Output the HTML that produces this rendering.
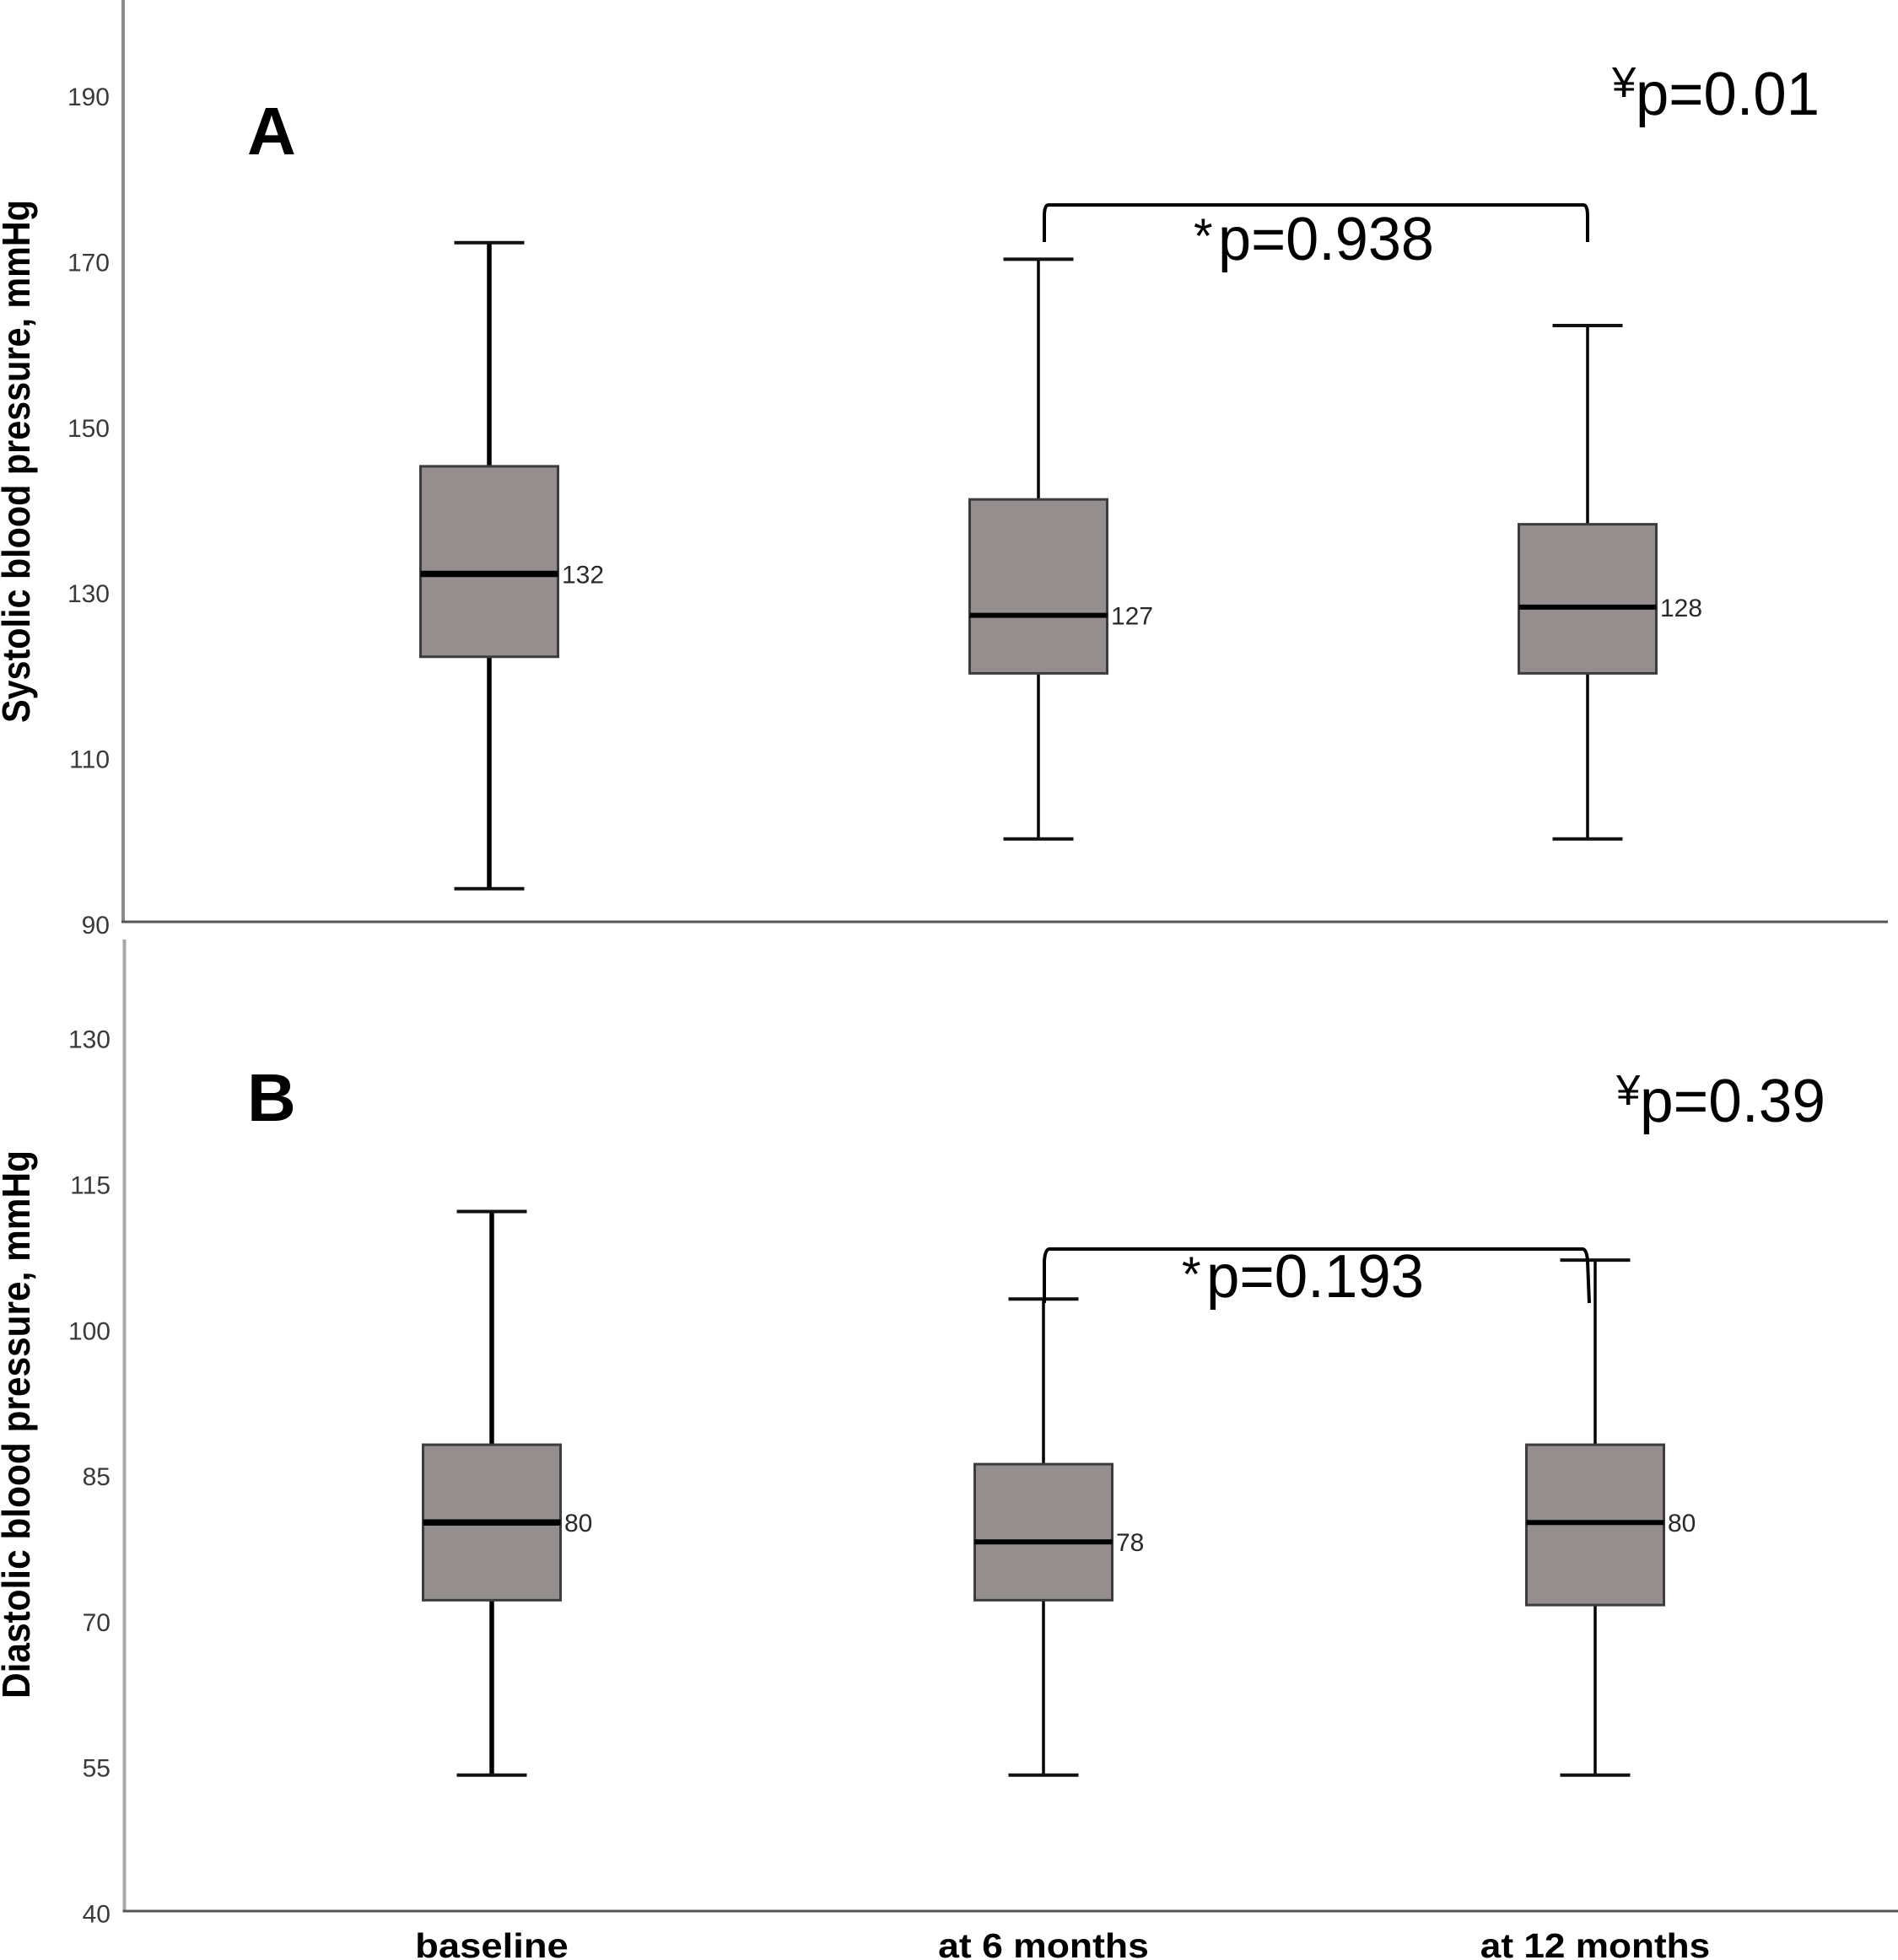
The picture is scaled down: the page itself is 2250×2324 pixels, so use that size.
<!DOCTYPE html>
<html lang="en">
<head>
<meta charset="utf-8">
<title>Blood pressure box plots</title>
<style>
html,body{margin:0;padding:0;background:#fff;}
svg{display:block;}
text{font-family:"Liberation Sans",Arial,sans-serif;}
.tick{font-size:30px;fill:#3a3a3a;}
.val{font-size:30px;fill:#2a2a2a;}
.big{font-size:72px;fill:#000;}
.sup{font-size:51px;fill:#000;}
.ast{font-size:58px;fill:#000;}
.letter{font-size:80px;font-weight:bold;fill:#000;}
.ytitle{font-size:46px;font-weight:bold;fill:#000;}
.cat{font-size:41px;font-weight:bold;fill:#000;}
</style>
</head>
<body>
<svg id="chart" xmlns="http://www.w3.org/2000/svg" width="2250" height="2324" viewBox="0 0 2250 2324">
  <rect x="0" y="0" width="2250" height="2324" fill="#fff"/>

  <g id="panelA"></g>
  <g id="panelB"></g>

  <text class="letter" x="293" y="183">A</text>
  <text class="letter" x="293" y="1329">B</text>

  <text class="ytitle" transform="translate(35,857) rotate(-90)" textLength="620" lengthAdjust="spacingAndGlyphs">Systolic blood pressure, mmHg</text>
  <text class="ytitle" transform="translate(35,2014) rotate(-90)" textLength="650" lengthAdjust="spacingAndGlyphs">Diastolic blood pressure, mmHg</text>

  <path d="M1238 287 L1238 256 Q1238 243 1243 243 L1877 243 Q1882 243 1882 256 L1882 287" fill="none" stroke="#000" stroke-width="4"/>
  <text class="ast" x="1415" y="300">*</text>
  <text class="big" x="1444" y="308" textLength="256" lengthAdjust="spacingAndGlyphs">p=0.938</text>
  <text class="sup" x="1911" y="115">¥</text>
  <text class="big" x="1939" y="136" textLength="218" lengthAdjust="spacingAndGlyphs">p=0.01</text>

  <path d="M1238 1545 L1238 1495 Q1239 1481 1244 1481 L1876 1481 Q1881 1481 1882 1495 L1884 1545" fill="none" stroke="#000" stroke-width="4"/>
  <text class="ast" x="1401" y="1531">*</text>
  <text class="big" x="1430" y="1538" textLength="258" lengthAdjust="spacingAndGlyphs">p=0.193</text>
  <text class="sup" x="1916" y="1310">¥</text>
  <text class="big" x="1944" y="1330" textLength="220" lengthAdjust="spacingAndGlyphs">p=0.39</text>
</svg>

<script>
var categories = ["baseline", "at 6 months", "at 12 months"];

var systolicTicks = [190, 170, 150, 130, 110, 90];
var systolicLow = [94, 100, 100];
var systolicQ1 = [122, 120, 120];
var systolicMedian = [132, 127, 128];
var systolicQ3 = [145, 141, 138];
var systolicHigh = [172, 170, 162];

var diastolicTicks = [130, 115, 100, 85, 70, 55, 40];
var diastolicLow = [54, 54, 54];
var diastolicQ1 = [72, 72, 71.5];
var diastolicMedian = [80, 78, 80];
var diastolicQ3 = [88, 86, 88];
var diastolicHigh = [112, 103, 107];

var NS = 'http://www.w3.org/2000/svg';

function make(tag, attrs, parent, content) {
  var el = document.createElementNS(NS, tag);
  for (var k in attrs) { el.setAttribute(k, attrs[k]); }
  if (content !== undefined) { el.textContent = content; }
  parent.appendChild(el);
  return el;
}

function drawPanel(g, cfg, ticks, low, q1, median, q3, high) {
  function y(v) { return cfg.y0 - (v - cfg.v0) * cfg.unit; }
  function x(i) { return cfg.x0 + cfg.step * i; }

  var vAxis = make('line', {x1: cfg.axisX, x2: cfg.axisX, y1: cfg.axisTop, y2: y(cfg.v0), stroke: cfg.axisColor, 'stroke-width': 4}, g);
  
  

  var hAxis = make('line', {x1: cfg.axisX - 2, x2: cfg.axisRight, y1: y(cfg.v0), y2: y(cfg.v0), stroke: '#555', 'stroke-width': 3}, g);
  
  

  ticks.forEach(function (t) {
    var label = make('text', {'class': 'tick', x: cfg.tickRight, y: y(t) + cfg.tickDrop, 'text-anchor': 'end'}, g, String(t));
    
    
  });

  categories.forEach(function (name, i) {
    var cx = x(i);
    var ww = i === 0 ? 5.5 : 3.5;

    var upper = make('line', {x1: cx, x2: cx, y1: y(high[i]), y2: y(q3[i]), stroke: '#000', 'stroke-width': ww}, g);
    
    

    var lower = make('line', {x1: cx, x2: cx, y1: y(q1[i]), y2: y(low[i]), stroke: '#000', 'stroke-width': ww}, g);
    
    

    var capHigh = make('line', {x1: cx - 41.5, x2: cx + 41.5, y1: y(high[i]), y2: y(high[i]), stroke: '#111', 'stroke-width': 4}, g);
    
    

    var capLow = make('line', {x1: cx - 41.5, x2: cx + 41.5, y1: y(low[i]), y2: y(low[i]), stroke: '#111', 'stroke-width': 4}, g);
    
    

    var box = make('rect', {x: cx - 81.5, y: y(q3[i]), width: 163, height: y(q1[i]) - y(q3[i]), fill: '#948f8e', stroke: '#3c3c3c', 'stroke-width': 3}, g);
    
    

    var med = make('line', {x1: cx - 81.5, x2: cx + 81.5, y1: y(median[i]), y2: y(median[i]), stroke: '#000', 'stroke-width': i === 0 ? 7.5 : 6}, g);
    
    

    var val = make('text', {'class': 'val', x: cx + 86, y: y(median[i]) + 11}, g, String(median[i]));
    
    

    if (cfg.showCategories) {
      var cat = make('text', {'class': 'cat', x: cx, y: 2321, 'text-anchor': 'middle', textLength: name.length * cfg.catEm, lengthAdjust: 'spacingAndGlyphs'}, g, name);
      
      
    }
  });
}

drawPanel(document.getElementById('panelA'),
  {y0: 1093, v0: 90, unit: 9.82, x0: 580, step: 651, axisX: 146, axisTop: 0, axisRight: 2238, axisColor: '#8c8c8c', tickRight: 130, tickDrop: 14, showCategories: false},
  systolicTicks, systolicLow, systolicQ1, systolicMedian, systolicQ3, systolicHigh);

drawPanel(document.getElementById('panelB'),
  {y0: 2266, v0: 40, unit: 11.52, x0: 583, step: 654, axisX: 147.5, axisTop: 1114, axisRight: 2250, axisColor: '#a8a8a8', tickRight: 131, tickDrop: 13.5, showCategories: true, catEm: 22.7},
  diastolicTicks, diastolicLow, diastolicQ1, diastolicMedian, diastolicQ3, diastolicHigh);
</script>
</body>
</html>
